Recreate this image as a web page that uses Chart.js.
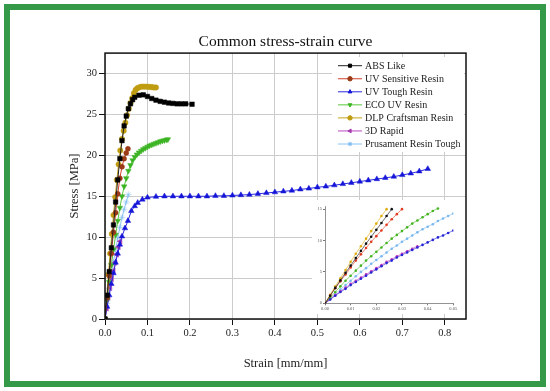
<!DOCTYPE html>
<html>
<head>
<meta charset="utf-8">
<script src="https://cdn.jsdelivr.net/npm/chart.js@4.4.0/dist/chart.umd.min.js"></script>
<style>
  html, body { margin: 0; padding: 0; background: #fff; }
  #wrap { position: relative; width: 550px; height: 391px; overflow: hidden; background: #fff; }
  #main { position: absolute; left: 0; top: 0; }
  #inset { position: absolute; left: 312px; top: 200px; background: #fff; }
  #frame { position: absolute; left: 4px; top: 4px; width: 530px; height: 371px; border: 6px solid #35994a; pointer-events: none; }
</style>
</head>
<body>
<div id="wrap">
  <canvas id="main" width="550" height="391"></canvas>
  <canvas id="inset" width="153" height="114"></canvas>
  <div id="frame"></div>
</div>
<script>
// tick labels
const xTickValues = [0, 0.1, 0.2, 0.3, 0.4, 0.5, 0.6, 0.7, 0.8];
const yTickValues = [0, 5, 10, 15, 20, 25, 30];
const insetXTickValues = [0, 0.01, 0.02, 0.03, 0.04, 0.05];
const insetYTickValues = [0, 5, 10, 15];

const seriesNames = ['ABS Like', 'UV Sensitive Resin', 'UV Tough Resin', 'ECO UV Resin',
  'DLP Craftsman Resin', '3D Rapid', 'Prusament Resin Tough'];

// main curves (strain mm/mm, stress MPa)
const absStrain = [0, 0.005, 0.01, 0.015, 0.02, 0.025, 0.03, 0.035, 0.04, 0.045, 0.05, 0.055, 0.06, 0.065, 0.07,
  0.08, 0.09, 0.1, 0.11, 0.12, 0.13, 0.14, 0.15, 0.16, 0.17, 0.18, 0.19, 0.205];
const absStress = [0, 2.9, 5.8, 8.7, 11.5, 14.3, 17.0, 19.6, 21.8, 23.6, 24.8, 25.7, 26.3, 26.8, 27.1,
  27.35, 27.4, 27.2, 26.95, 26.75, 26.6, 26.5, 26.4, 26.35, 26.3, 26.3, 26.3, 26.25];

const uvsStrain = [0, 0.005, 0.01, 0.015, 0.02, 0.025, 0.03, 0.035, 0.04, 0.045, 0.05, 0.054];
const uvsStress = [0, 2.6, 5.3, 8.0, 10.6, 13.0, 15.3, 17.2, 18.6, 19.6, 20.3, 20.8];

const toughStrain = [0, 0.005, 0.01, 0.015, 0.02, 0.025, 0.03, 0.035, 0.04, 0.047, 0.054, 0.062, 0.07, 0.077, 0.088, 0.1,
  0.12, 0.14, 0.16, 0.18, 0.2, 0.22, 0.24, 0.26, 0.28, 0.3, 0.32, 0.34, 0.36, 0.38, 0.4, 0.42, 0.44, 0.46, 0.48,
  0.5, 0.52, 0.54, 0.56, 0.58, 0.6, 0.62, 0.64, 0.66, 0.68, 0.7, 0.72, 0.74, 0.76];
const toughStress = [0, 1.5, 2.9, 4.3, 5.6, 6.9, 8.0, 9.1, 10.1, 11.1, 12.0, 13.2, 13.8, 14.2, 14.6, 14.85,
  14.95, 15.0, 15.0, 15.0, 15.0, 15.0, 15.0, 15.05, 15.05, 15.1, 15.15, 15.2, 15.3, 15.4, 15.5, 15.6, 15.7, 15.85, 15.95,
  16.1, 16.2, 16.35, 16.5, 16.65, 16.8, 16.95, 17.1, 17.25, 17.4, 17.6, 17.8, 18.05, 18.35];

const ecoStrain = [0, 0.005, 0.01, 0.015, 0.02, 0.025, 0.03, 0.035, 0.04, 0.045, 0.05, 0.055, 0.06, 0.065, 0.07,
  0.075, 0.08, 0.085, 0.09, 0.095, 0.1, 0.105, 0.11, 0.115, 0.12, 0.125, 0.13, 0.135, 0.14, 0.145, 0.148];
const ecoStress = [0, 2.3, 4.5, 6.6, 8.5, 10.3, 12.0, 13.6, 15.0, 16.2, 17.2, 18.1, 18.8, 19.4, 19.8,
  20.1, 20.35, 20.55, 20.75, 20.9, 21.05, 21.2, 21.3, 21.4, 21.5, 21.6, 21.7, 21.78, 21.85, 21.92, 21.95];

const dlpStrain = [0, 0.004, 0.008, 0.012, 0.016, 0.02, 0.024, 0.028, 0.032, 0.036, 0.04, 0.044, 0.048, 0.052, 0.056,
  0.06, 0.064, 0.068, 0.072, 0.076, 0.08, 0.085, 0.09, 0.095, 0.1, 0.105, 0.11, 0.115, 0.12];
const dlpStress = [0, 2.7, 5.4, 8.0, 10.4, 12.7, 14.9, 17.0, 18.9, 20.6, 22.0, 23.0, 24.0, 24.9, 25.7,
  26.4, 27.0, 27.6, 28.0, 28.2, 28.3, 28.4, 28.4, 28.4, 28.4, 28.35, 28.35, 28.3, 28.3];

const rapidStrain = [0, 0.004, 0.008, 0.012, 0.016, 0.02, 0.024, 0.028, 0.032, 0.036];
const rapidStress = [0, 1.3, 2.6, 3.8, 4.9, 5.9, 6.9, 7.9, 8.8, 9.5];

const prusaStrain = [0, 0.005, 0.01, 0.015, 0.02, 0.025, 0.03, 0.035, 0.04, 0.045, 0.05, 0.055];
const prusaStress = [0, 1.9, 3.7, 5.4, 7.0, 8.5, 9.9, 11.2, 12.4, 13.4, 14.3, 15.2];

// inset (zoom of the elastic region), strain step 0.002
const insetStrain = [0, 0.002, 0.004, 0.006, 0.008, 0.01, 0.012, 0.014, 0.016, 0.018, 0.02, 0.022, 0.024,
  0.026, 0.028, 0.03, 0.032, 0.034, 0.036, 0.038, 0.04, 0.042, 0.044, 0.046, 0.048, 0.05];
const insetAbs = [0, 1.2, 2.45, 3.65, 4.85, 6.0, 7.2, 8.35, 9.5, 10.6, 11.7, 12.8, 13.9, 15.0];
const insetUvs = [0, 1.2, 2.4, 3.5, 4.6, 5.7, 6.8, 7.8, 8.8, 9.8, 10.7, 11.6, 12.5, 13.4, 14.2, 15.0];
const insetTough = [0, 0.6, 1.2, 1.8, 2.3, 2.9, 3.4, 3.9, 4.4, 4.9, 5.4, 5.9, 6.4, 6.8, 7.3, 7.7, 8.1, 8.5, 8.9,
  9.3, 9.7, 10.1, 10.5, 10.8, 11.2, 11.6];
const insetEco = [0, 0.9, 1.8, 2.7, 3.6, 4.4, 5.2, 6.0, 6.8, 7.5, 8.2, 8.9, 9.6, 10.3, 10.9, 11.5, 12.1, 12.7,
  13.2, 13.7, 14.2, 14.7, 15.1];
const insetDlp = [0, 1.35, 2.7, 4.0, 5.3, 6.6, 7.9, 9.1, 10.3, 11.5, 12.7, 13.9, 15.0];
const insetRapid = [0, 0.65, 1.3, 1.9, 2.5, 3.1, 3.6, 4.1, 4.6, 5.1, 5.6, 6.1, 6.6, 7.0, 7.5, 7.9, 8.3, 8.7, 9.1];
const insetPrusa = [0, 0.75, 1.5, 2.2, 2.9, 3.6, 4.3, 5.0, 5.6, 6.3, 6.9, 7.5, 8.1, 8.7, 9.2, 9.8, 10.3, 10.8,
  11.3, 11.8, 12.2, 12.6, 13.1, 13.5, 13.9, 14.3];

const looks = [
  { line: '#222222', marker: '#000000', style: 'rect', rot: 0, r: 3.2 },
  { line: '#d0402a', marker: '#9a3a16', style: 'circle', rot: 0, r: 2.5 },
  { line: '#2a2ae0', marker: '#1616d8', style: 'triangle', rot: 0, r: 3.2 },
  { line: '#5ac83c', marker: '#3cb424', style: 'triangle', rot: 180, r: 3.2 },
  { line: '#c8a418', marker: '#bf9c10', style: 'circle', rot: 0, r: 2.7 },
  { line: '#b848c0', marker: '#a83cb0', style: 'triangle', rot: 270, r: 3.2 },
  { line: '#8cc4f2', marker: '#7ab8f0', style: 'star', rot: 0, r: 3.2 },
];
const insetColors = ['#111111', '#e03a20', '#2424d4', '#44b420', '#e0ac10', '#c038c0', '#78b8ee'];

const pts = (xs, ys) => ys.map((y, i) => ({ x: xs[i], y: y }));

const mainSeries = [
  pts(absStrain, absStress), pts(uvsStrain, uvsStress), pts(toughStrain, toughStress),
  pts(ecoStrain, ecoStress), pts(dlpStrain, dlpStress), pts(rapidStrain, rapidStress),
  pts(prusaStrain, prusaStress),
];
const insetSeries = [
  pts(insetStrain, insetAbs), pts(insetStrain, insetUvs), pts(insetStrain, insetTough),
  pts(insetStrain, insetEco), pts(insetStrain, insetDlp), pts(insetStrain, insetRapid),
  pts(insetStrain, insetPrusa),
];

const serif = '"Liberation Serif", "DejaVu Serif", serif';

const boxAndLegend = {
  id: 'boxAndLegend',
  afterDraw(chart) {
    const ctx = chart.ctx;
    const a = chart.chartArea;
    ctx.save();
    // legend
    ctx.fillStyle = '#fff';
    ctx.fillRect(332, 57, 132, 95);
    ctx.font = '10px ' + serif;
    ctx.textBaseline = 'middle';
    seriesNames.forEach((name, i) => {
      const y = 65.7 + i * 13.05;
      const lk = looks[i];
      ctx.strokeStyle = lk.line;
      ctx.lineWidth = 1;
      ctx.beginPath();
      ctx.moveTo(338, y);
      ctx.lineTo(362, y);
      ctx.stroke();
      ctx.fillStyle = lk.marker;
      ctx.strokeStyle = lk.marker;
      Chart.helpers.drawPoint(ctx, { pointStyle: lk.style, rotation: lk.rot, radius: 2.2, borderWidth: 1 }, 350, y);
      ctx.fillStyle = '#222';
      ctx.fillText(name, 365, y + 0.5);
    });
    // plot frame
    ctx.strokeStyle = '#111';
    ctx.lineWidth = 1.5;
    ctx.strokeRect(a.left, a.top, a.right - a.left, a.bottom - a.top);
    ctx.restore();
  }
};

new Chart(document.getElementById('main'), {
  type: 'line',
  data: {
    datasets: mainSeries.map((d, i) => ({
      label: seriesNames[i],
      data: d,
      borderColor: looks[i].line,
      backgroundColor: looks[i].marker,
      pointBackgroundColor: looks[i].marker,
      pointBorderColor: looks[i].marker,
      pointStyle: looks[i].style,
      pointRotation: looks[i].rot,
      pointRadius: looks[i].r,
      pointBorderWidth: 0.5,
      borderWidth: 1,
      tension: 0,
    })),
  },
  options: {
    responsive: false,
    animation: false,
    devicePixelRatio: 1,
    layout: { padding: { left: 0, right: 84, top: 20, bottom: 0 } },
    scales: {
      x: {
        type: 'linear',
        min: 0,
        max: 0.85,
        afterBuildTicks: s => { s.ticks = xTickValues.map(v => ({ value: v })); },
        afterFit: s => { s.height = 72; },
        ticks: {
          autoSkip: false, maxRotation: 0, padding: 2, color: '#222',
          font: { family: serif, size: 10.5 },
          callback: v => Number(v).toFixed(1),
        },
        grid: { color: '#cccccc', tickColor: '#111', tickLength: 6, lineWidth: 1 },
        border: { display: false },
        title: {
          display: true, text: 'Strain [mm/mm]', color: '#222',
          font: { family: serif, size: 12.5 }, padding: { top: 0, bottom: 20 },
        },
      },
      y: {
        type: 'linear',
        min: 0,
        max: 32.5,
        afterBuildTicks: s => { s.ticks = yTickValues.map(v => ({ value: v })); },
        afterFit: s => { s.width = 105; },
        ticks: { autoSkip: false, padding: 2, color: '#222', font: { family: serif, size: 10.5 } },
        grid: { color: '#cccccc', tickColor: '#111', tickLength: 6, lineWidth: 1 },
        border: { display: false },
        title: {
          display: true, text: 'Stress [MPa]', color: '#222',
          font: { family: serif, size: 12.5 }, padding: { top: 67, bottom: 0 },
        },
      },
    },
    plugins: {
      legend: { display: false },
      tooltip: { enabled: false },
      title: {
        display: true,
        text: 'Common stress-strain curve',
        color: '#111',
        fullSize: false,
        font: { family: serif, size: 15.5, weight: 'normal' },
        padding: { top: 13, bottom: 1.5 },
      },
    },
  },
  plugins: [boxAndLegend],
});

new Chart(document.getElementById('inset'), {
  type: 'line',
  data: {
    datasets: insetSeries.map((d, i) => ({
      label: seriesNames[i],
      data: d,
      borderColor: insetColors[i],
      backgroundColor: insetColors[i],
      pointBackgroundColor: insetColors[i],
      pointBorderColor: insetColors[i],
      pointRadius: 1.3,
      pointBorderWidth: 0,
      borderWidth: 0.6,
      tension: 0,
    })),
  },
  options: {
    responsive: false,
    animation: false,
    devicePixelRatio: 1,
    layout: { padding: { left: 0, right: 11.7, top: 6, bottom: 0 } },
    scales: {
      x: {
        type: 'linear', min: 0, max: 0.05,
        afterBuildTicks: s => { s.ticks = insetXTickValues.map(v => ({ value: v })); },
        afterFit: s => { s.height = 10.7; },
        ticks: {
          autoSkip: false, maxRotation: 0, padding: 1, color: '#555',
          font: { family: serif, size: 4.5 }, callback: v => Number(v).toFixed(2),
        },
        grid: { drawOnChartArea: false, color: '#777', tickLength: 2 },
        border: { color: '#777', width: 0.8 },
      },
      y: {
        type: 'linear', min: 0, max: 15.5,
        afterBuildTicks: s => { s.ticks = insetYTickValues.map(v => ({ value: v })); },
        afterFit: s => { s.width = 13; },
        ticks: { autoSkip: false, padding: 1, color: '#555', font: { family: serif, size: 4.5 } },
        grid: { drawOnChartArea: false, color: '#777', tickLength: 2 },
        border: { color: '#777', width: 0.8 },
      },
    },
    plugins: { legend: { display: false }, tooltip: { enabled: false }, title: { display: false } },
  },
});
</script>
</body>
</html>
